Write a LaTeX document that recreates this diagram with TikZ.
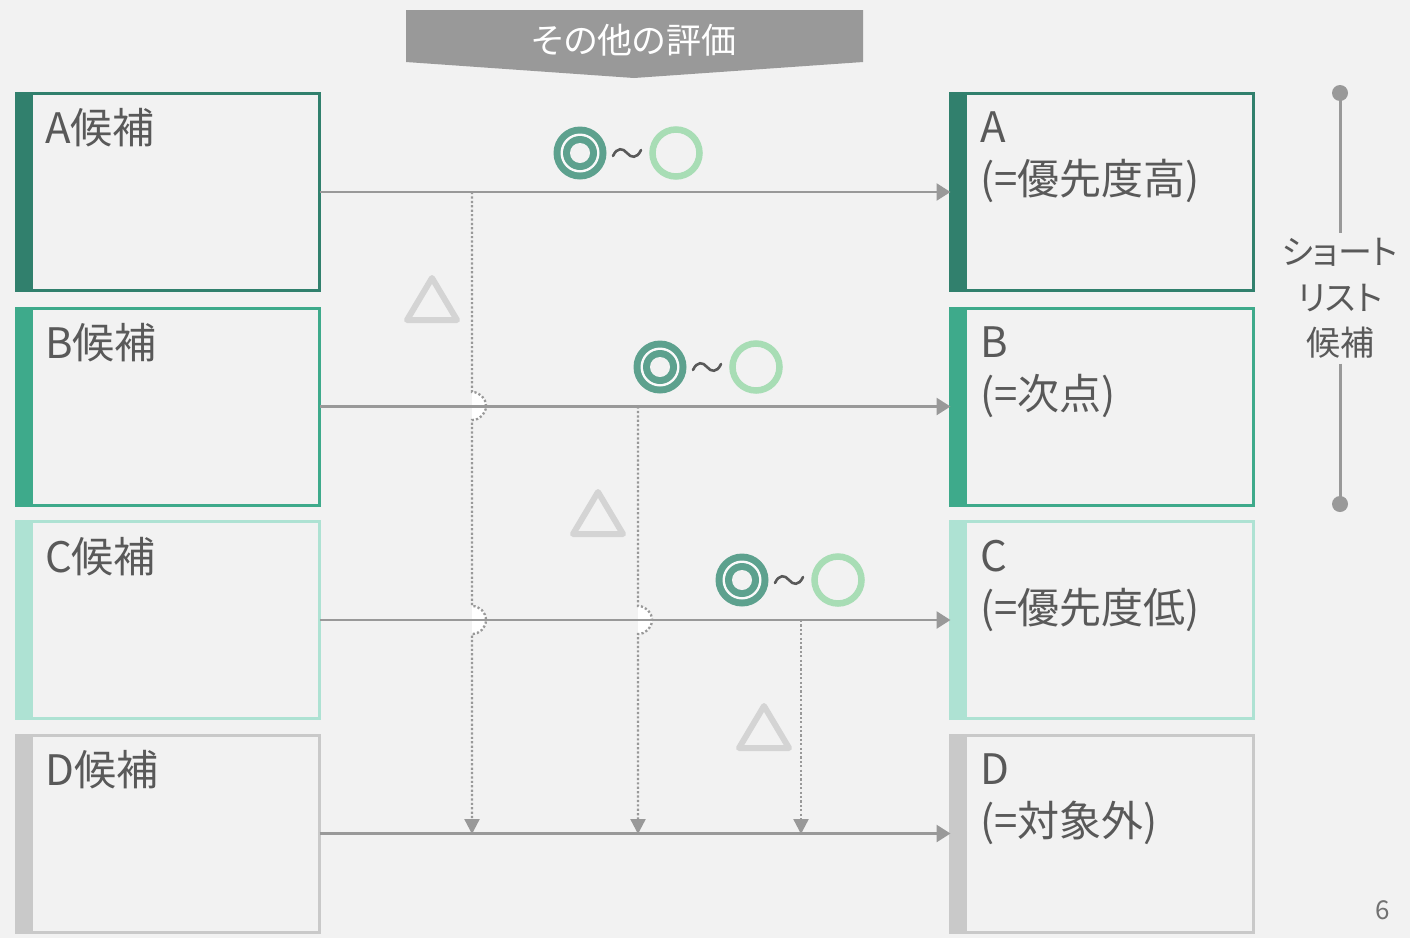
\documentclass[tikz,border=0pt]{standalone}
\usepackage{fontspec}
\setmainfont{Noto Sans CJK JP}
\newfontfamily\jpp{Noto Sans CJK JP}[RawFeature=+palt]
\usetikzlibrary{arrows.meta}
\definecolor{bgc}{HTML}{F2F2F2}
\definecolor{cA}{HTML}{31806D}
\definecolor{cB}{HTML}{3EAA8B}
\definecolor{cC}{HTML}{AEE2D3}
\definecolor{cD}{HTML}{C9C9C9}
\definecolor{txt}{HTML}{595959}
\definecolor{lnc}{HTML}{999999}
\definecolor{tric}{HTML}{D4D4D4}
\definecolor{bannerc}{HTML}{999999}
\definecolor{dcol}{HTML}{5DA18E}
\definecolor{lcol}{HTML}{A8DDB5}
\begin{document}
\begin{tikzpicture}[x=1pt,y=-1pt,
  box/.style={draw=#1, line width=3pt, minimum width=303pt, minimum height=197pt,
    inner sep=0pt, outer sep=0pt,
    path picture={\fill[#1] (path picture bounding box.north west) rectangle ([xshift=16pt]path picture bounding box.south west);}},
  lbl/.style={anchor=base west, inner sep=0pt, text=txt, font=\fontsize{42}{52}\selectfont},
  conn/.style={draw=lnc, line width=2.7pt, -{Triangle[length=14pt,width=17pt]}},
  dotline/.style={draw=lnc, line width=2.3pt, dash pattern=on 2.2pt off 2.2pt, -{Triangle[length=15pt,width=15pt]}},
  hop/.style={fill=white},
  tri/.style={draw=tric, line width=6pt, line join=round},
  tilde/.style={draw=txt, line width=2.6pt, line cap=round}]
\useasboundingbox[fill=bgc] (0,0) rectangle (1410,938);

% banner
\fill[bannerc] (406,10) -- (863,10) -- (863,62) -- (634,78) -- (406,62) -- cycle;
\node[text=white, inner sep=0pt, font=\jpp\fontsize{35}{40}\selectfont] (banner) at (634,40) {その他の評価};

% boxes
\node[box=cA] (la) at (168,192) {};
\node[box=cB] (lb) at (168,406.5) {};
\node[box=cC] (lc) at (168,620) {};
\node[box=cD] (ld) at (168,833.5) {};
\node[box=cA] (ra) at (1102,192) {};
\node[box=cB] (rb) at (1102,406.5) {};
\node[box=cC] (rc) at (1102,620) {};
\node[box=cD] (rd) at (1102,833.5) {};

\node[lbl] (lat) at (45,143) {A候補};
\node[lbl] (lbt) at (45,358) {B候補};
\node[lbl] (lct) at (45,572) {C候補};
\node[lbl] (ldt) at (45,785) {D候補};

\node[lbl] (rat) at (980,142) {\vtop{\baselineskip=52pt\hbox{A}\hbox{(=優先度高)}}};
\node[lbl] (rbt) at (980,357) {\vtop{\baselineskip=52pt\hbox{B}\hbox{(=次点)}}};
\node[lbl] (rct) at (980,571) {\vtop{\baselineskip=52pt\hbox{C}\hbox{(=優先度低)}}};
\node[lbl] (rdt) at (980,784) {\vtop{\baselineskip=52pt\hbox{D}\hbox{(=対象外)}}};

% triangles
\draw[tri] (432,278) -- (457,320) -- (407,320) -- cycle;
\draw[tri] (598,492) -- (623,534) -- (573,534) -- cycle;
\draw[tri] (764,706) -- (789,748) -- (739,748) -- cycle;

% evaluation marks
\foreach \x/\y in {580/153, 660/367, 742/580} {
  \fill[dcol] (\x,\y) circle[radius=26.5];
  \fill[white!60!bgc] (\x,\y) circle[radius=19.5];
  \fill[dcol] (\x,\y) circle[radius=17];
  \fill[bgc] (\x,\y) circle[radius=10];
  \draw[tilde] (\x+33,\y+3) .. controls (\x+37,\y-6) and (\x+43,\y-5) .. (\x+47,\y) .. controls (\x+51,\y+5) and (\x+57,\y+6) .. (\x+61,\y-3);
  \draw[lcol, line width=6.5pt] (\x+96,\y) circle[radius=23.5];
}

% hops
\fill[hop] (472,392) arc[start angle=-90,end angle=90,radius=14] -- cycle;
\fill[hop] (472,606) arc[start angle=-90,end angle=90,radius=14] -- cycle;
\fill[hop] (638,606) arc[start angle=-90,end angle=90,radius=14] -- cycle;

% vertical dotted connectors
\coordinate (v1s) at (472,192);
\coordinate (v1e) at (472,834);
\coordinate (v2s) at (638,406.5);
\coordinate (v2e) at (638,834);
\coordinate (v3s) at (801,620);
\coordinate (v3e) at (801,834);
\draw[dotline] (v1s) -- (472,392) arc[start angle=-90,end angle=90,radius=14] -- (472,606) arc[start angle=-90,end angle=90,radius=14] -- (v1e);
\draw[dotline] (v2s) -- (638,606) arc[start angle=-90,end angle=90,radius=14] -- (v2e);
\draw[dotline] (v3s) -- (v3e);

% horizontal connectors
\draw[conn] (la.east) -- (ra.west);
\draw[conn] (lb.east) -- (rb.west);
\draw[conn] (lc.east) -- (rc.west);
\draw[conn] (ld.east) -- (rd.west);

% short list bracket
\coordinate (st) at (1340,93);
\coordinate (sb) at (1340,504);
\node[inner sep=0pt, outer sep=5pt, align=center, text=txt, font=\jpp\fontsize{34}{45.5}\selectfont] (sl) at (1340,298.5) {ショート\\リスト\\候補};
\draw[lnc, line width=3pt] (st) -- (sl.north);
\draw[lnc, line width=3pt] (sl.south) -- (sb);
\fill[lnc] (st) circle[radius=8];
\fill[lnc] (sb) circle[radius=8];

% page number
\node[text=txt!85, inner sep=0pt, font=\fontsize{26}{30}\selectfont] (pg) at (1383,910) {6};
\end{tikzpicture}
\end{document}
